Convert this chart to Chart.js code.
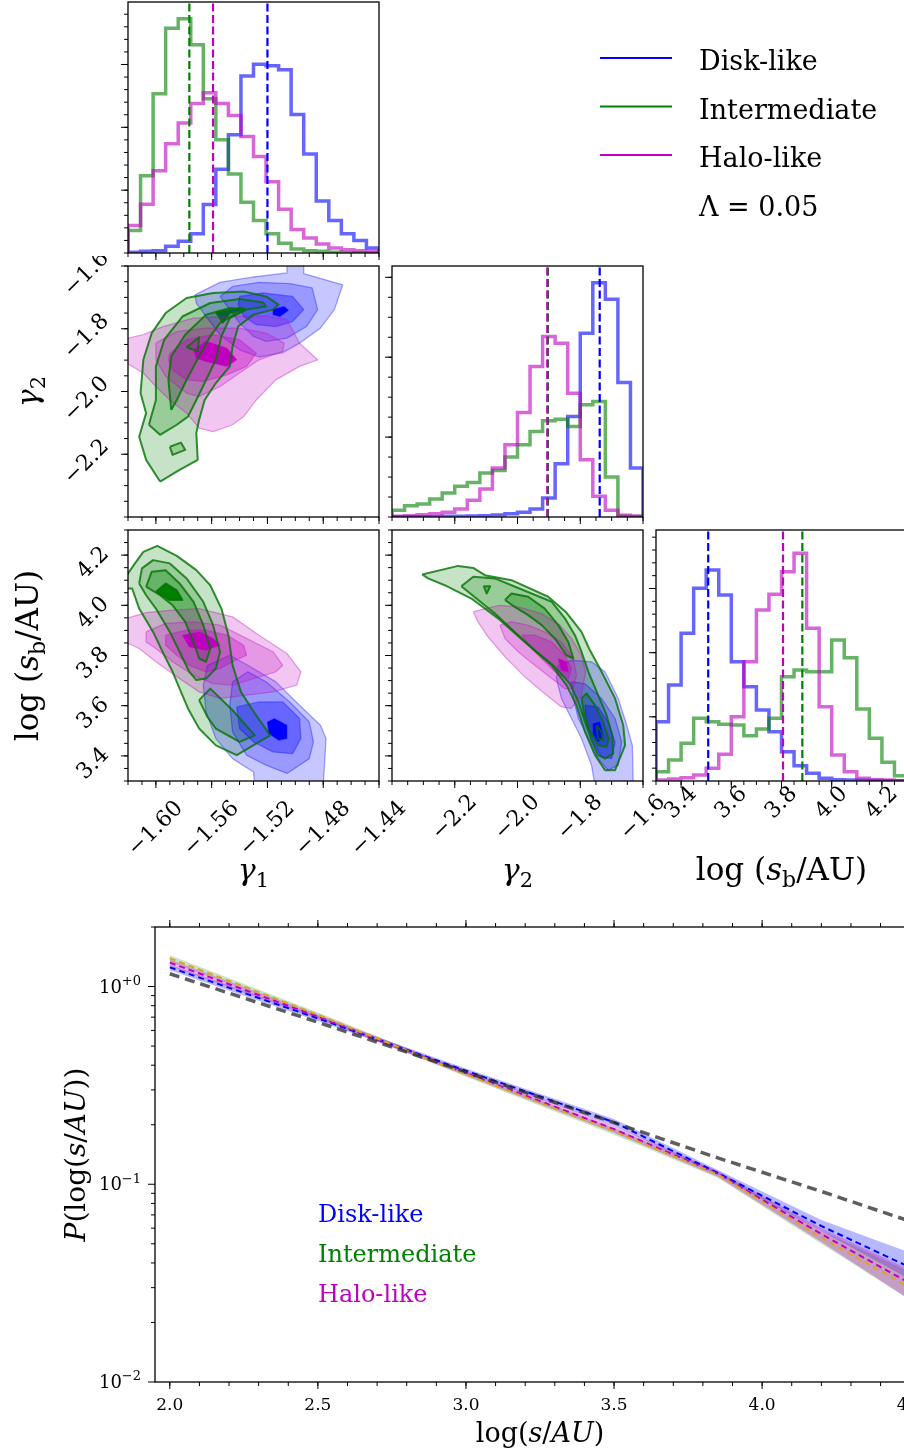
<!DOCTYPE html>
<html>
<head>
<meta charset="utf-8">
<title>Separation distribution fits</title>
<script src="https://cdn.jsdelivr.net/npm/chart.js@4.4.1/dist/chart.umd.min.js"></script>
<style>
  html, body { margin: 0; padding: 0; background: #fff; }
  body { position: relative; width: 904px; height: 1456px; overflow: hidden; }
  canvas { position: absolute; }
</style>
</head>
<body>
<canvas id="histG1"></canvas>
<canvas id="g1g2"></canvas>
<canvas id="histG2"></canvas>
<canvas id="g1Sb"></canvas>
<canvas id="g2Sb"></canvas>
<canvas id="histSb"></canvas>
<canvas id="sepDist"></canvas>
<script>
const SERIF = '"DejaVu Serif", serif';

// series: disk-like, intermediate, halo-like
const seriesNames = ['Disk-like', 'Intermediate', 'Halo-like'];
const seriesRGB = ['0,0,255', '0,128,0', '191,0,191'];
const lambdaText = 'Λ = 0.05';

// corner plot axis limits and ticks
const gamma1Lim = [-1.62, -1.44];
const gamma2Lim = [-2.4, -1.6];
const logSbLim = [3.3, 4.3];
const gamma1Ticks = [-1.60, -1.56, -1.52, -1.48, -1.44];
const gamma1Labels = ['−1.60', '−1.56', '−1.52', '−1.48', '−1.44'];
const gamma2Ticks = [-2.2, -2.0, -1.8, -1.6];
const gamma2Labels = ['−2.2', '−2.0', '−1.8', '−1.6'];
const logSbTicks = [3.4, 3.6, 3.8, 4.0, 4.2];
const logSbLabels = ['3.4', '3.6', '3.8', '4.0', '4.2'];

// 1D marginals (bin edges, counts per series, medians)
const gamma1Edges = [-1.620, -1.611, -1.602, -1.593, -1.584, -1.575, -1.566, -1.557, -1.548, -1.539, -1.530,
  -1.521, -1.512, -1.503, -1.494, -1.485, -1.476, -1.467, -1.458, -1.449, -1.440];
const gamma1Disk = [2, 5, 7, 20, 35, 57, 144, 249, 352, 527, 562, 557, 545, 412, 295, 155, 97, 57, 37, 15];
const gamma1Inter = [67, 230, 474, 669, 697, 620, 459, 337, 235, 151, 97, 57, 29, 12, 7, 5, 2, 1, 1, 0];
const gamma1Halo = [82, 145, 245, 325, 387, 445, 477, 445, 409, 347, 287, 212, 130, 70, 45, 27, 15, 10, 7, 5];
const gamma1Medians = [-1.520, -1.576, -1.559];
const gamma1HistMax = 747;

const gamma2Edges = [-2.40, -2.36, -2.32, -2.28, -2.24, -2.20, -2.16, -2.12, -2.08, -2.04, -2.00,
  -1.96, -1.92, -1.88, -1.84, -1.80, -1.76, -1.72, -1.68, -1.64, -1.60];
const gamma2Disk = [1, 1, 1, 1, 2, 2, 3, 4, 6, 10, 14, 24, 57, 160, 302, 552, 704, 654, 404, 147];
const gamma2Inter = [20, 34, 39, 54, 72, 92, 104, 132, 140, 180, 217, 257, 289, 294, 272, 337, 347, 120, 2, 2];
const gamma2Halo = [2, 4, 7, 10, 14, 24, 50, 84, 147, 217, 314, 452, 542, 522, 372, 172, 62, 20, 5, 2];
const gamma2Medians = [-1.738, -1.903, -1.905];
const gamma2HistMax = 754;

const logSbEdges = [3.30, 3.35, 3.40, 3.45, 3.50, 3.55, 3.60, 3.65, 3.70, 3.75, 3.80,
  3.85, 3.90, 3.95, 4.00, 4.05, 4.10, 4.15, 4.20, 4.25, 4.30];
const logSbDisk = [178, 288, 443, 578, 633, 558, 358, 283, 213, 148, 88, 46, 23, 8, 4, 3, 2, 2, 1, 1];
const logSbInter = [28, 63, 113, 188, 178, 170, 168, 136, 156, 188, 313, 333, 328, 328, 423, 370, 216, 128, 56, 16];
const logSbHalo = [3, 6, 10, 18, 38, 80, 193, 358, 513, 560, 628, 683, 458, 223, 78, 28, 8, 3, 3, 1];
const logSbMedians = [3.508, 3.883, 3.806];
const logSbHistMax = 753;

// 2D credible regions: per series, a list of contour levels (outer -> inner),
// each level a list of closed polygons of [x, y] points
const g1g2Disk = [
  [[[-1.572, -1.692], [-1.554, -1.652], [-1.530, -1.635], [-1.506, -1.622], [-1.506, -1.58], [-1.494, -1.58],
    [-1.494, -1.624], [-1.466, -1.660], [-1.472, -1.739], [-1.482, -1.798], [-1.497, -1.846], [-1.509, -1.876],
    [-1.526, -1.890], [-1.540, -1.867], [-1.554, -1.819], [-1.564, -1.761], [-1.571, -1.718]]],
  [[[-1.554, -1.697], [-1.545, -1.665], [-1.526, -1.652], [-1.504, -1.656], [-1.488, -1.670], [-1.484, -1.739],
    [-1.492, -1.793], [-1.506, -1.830], [-1.521, -1.840], [-1.530, -1.824], [-1.540, -1.782], [-1.547, -1.739]]],
  [[[-1.540, -1.697], [-1.523, -1.686], [-1.502, -1.697], [-1.494, -1.739], [-1.502, -1.777], [-1.514, -1.793],
    [-1.528, -1.787], [-1.537, -1.761], [-1.541, -1.723]]],
  [[[-1.516, -1.739], [-1.508, -1.729], [-1.505, -1.741], [-1.511, -1.761], [-1.516, -1.755]]]
];
const g1g2Halo = [
  [[[-1.625, -1.835], [-1.609, -1.819], [-1.595, -1.793], [-1.573, -1.766], [-1.549, -1.761], [-1.521, -1.759],
    [-1.506, -1.771], [-1.497, -1.846], [-1.484, -1.899], [-1.497, -1.920], [-1.514, -1.963], [-1.528, -2.027],
    [-1.537, -2.080], [-1.545, -2.106], [-1.559, -2.128], [-1.569, -2.117], [-1.578, -2.069], [-1.590, -2.027],
    [-1.600, -1.984], [-1.609, -1.941], [-1.625, -1.899]]],
  [[[-1.600, -1.846], [-1.585, -1.809], [-1.564, -1.798], [-1.540, -1.798], [-1.521, -1.814], [-1.508, -1.846],
    [-1.509, -1.872], [-1.526, -1.899], [-1.540, -1.941], [-1.554, -1.984], [-1.569, -2.016], [-1.578, -2.005],
    [-1.593, -1.952], [-1.600, -1.899]]],
  [[[-1.590, -1.878], [-1.578, -1.835], [-1.559, -1.819], [-1.540, -1.835], [-1.528, -1.878], [-1.535, -1.920],
    [-1.549, -1.947], [-1.566, -1.968], [-1.578, -1.963], [-1.588, -1.931], [-1.591, -1.899]]],
  [[[-1.573, -1.867], [-1.564, -1.840], [-1.549, -1.862], [-1.542, -1.899], [-1.549, -1.920], [-1.564, -1.904],
    [-1.571, -1.894]]]
];
const g1g2Inter = [
  [[[-1.597, -2.287], [-1.607, -2.218], [-1.612, -2.144], [-1.607, -2.069], [-1.611, -2.005], [-1.609, -1.899],
    [-1.603, -1.814], [-1.593, -1.750], [-1.578, -1.702], [-1.559, -1.686], [-1.537, -1.681], [-1.521, -1.697],
    [-1.512, -1.723], [-1.516, -1.739], [-1.530, -1.755], [-1.541, -1.793], [-1.545, -1.856], [-1.547, -1.920],
    [-1.557, -1.973], [-1.565, -2.027], [-1.569, -2.090], [-1.571, -2.133], [-1.570, -2.218], [-1.583, -2.250]]],
  [[[-1.605, -2.106], [-1.600, -2.027], [-1.600, -1.920], [-1.594, -1.835], [-1.581, -1.761], [-1.561, -1.718],
    [-1.540, -1.705], [-1.523, -1.716], [-1.521, -1.729], [-1.535, -1.739], [-1.547, -1.766], [-1.553, -1.824],
    [-1.557, -1.899], [-1.564, -1.963], [-1.571, -2.027], [-1.577, -2.080], [-1.585, -2.106], [-1.597, -2.138]],
   [[-1.590, -2.176], [-1.582, -2.163], [-1.579, -2.186], [-1.588, -2.202]]],
  [[[-1.589, -2.059], [-1.591, -1.963], [-1.589, -1.888], [-1.579, -1.819], [-1.564, -1.755], [-1.547, -1.734],
    [-1.536, -1.739], [-1.545, -1.758], [-1.554, -1.782], [-1.561, -1.824], [-1.569, -1.888], [-1.578, -1.963],
    [-1.585, -2.027]],
   [[-1.578, -1.859], [-1.569, -1.827], [-1.570, -1.872]]],
  [[[-1.557, -1.748], [-1.540, -1.734], [-1.536, -1.739], [-1.547, -1.750], [-1.552, -1.780]]]
];

const g1SbDisk = [
  [[[-1.563, 3.761], [-1.547, 3.801], [-1.534, 3.761], [-1.514, 3.695], [-1.497, 3.602], [-1.482, 3.522],
    [-1.478, 3.469], [-1.480, 3.28], [-1.529, 3.28], [-1.530, 3.336], [-1.545, 3.389], [-1.557, 3.469],
    [-1.564, 3.575], [-1.566, 3.682]]],
  [[[-1.545, 3.695], [-1.534, 3.735], [-1.521, 3.695], [-1.504, 3.615], [-1.490, 3.535], [-1.487, 3.456],
    [-1.490, 3.389], [-1.506, 3.330], [-1.521, 3.363], [-1.535, 3.403], [-1.545, 3.496], [-1.547, 3.602]]],
  [[[-1.542, 3.595], [-1.526, 3.615], [-1.509, 3.615], [-1.497, 3.549], [-1.496, 3.469], [-1.502, 3.409],
    [-1.516, 3.416], [-1.530, 3.456], [-1.540, 3.509]]],
  [[[-1.520, 3.535], [-1.515, 3.549], [-1.506, 3.522], [-1.506, 3.469], [-1.512, 3.462], [-1.519, 3.489]]]
];
const g1SbHalo = [
  [[[-1.625, 3.941], [-1.607, 3.971], [-1.588, 3.981], [-1.569, 3.987], [-1.545, 3.954], [-1.526, 3.881],
    [-1.506, 3.808], [-1.496, 3.735], [-1.499, 3.682], [-1.516, 3.655], [-1.535, 3.642], [-1.554, 3.629],
    [-1.569, 3.655], [-1.583, 3.708], [-1.600, 3.775], [-1.612, 3.828], [-1.625, 3.861]]],
  [[[-1.607, 3.894], [-1.593, 3.928], [-1.573, 3.934], [-1.554, 3.921], [-1.535, 3.868], [-1.516, 3.815],
    [-1.509, 3.761], [-1.514, 3.735], [-1.530, 3.708], [-1.545, 3.682], [-1.559, 3.688], [-1.573, 3.721],
    [-1.588, 3.775], [-1.600, 3.828], [-1.607, 3.854]]],
  [[[-1.593, 3.881], [-1.578, 3.901], [-1.564, 3.901], [-1.549, 3.881], [-1.537, 3.841], [-1.535, 3.801],
    [-1.545, 3.775], [-1.554, 3.748], [-1.564, 3.735], [-1.576, 3.761], [-1.585, 3.801], [-1.593, 3.841]]],
  [[[-1.581, 3.881], [-1.569, 3.894], [-1.559, 3.868], [-1.554, 3.841], [-1.564, 3.821], [-1.576, 3.834]]]
];
const g1SbInter = [
  [[[-1.625, 4.087], [-1.615, 4.167], [-1.609, 4.213], [-1.599, 4.237], [-1.585, 4.197], [-1.571, 4.140],
    [-1.561, 4.080], [-1.553, 3.987], [-1.548, 3.881], [-1.545, 3.761], [-1.539, 3.655], [-1.529, 3.569],
    [-1.518, 3.482], [-1.526, 3.456], [-1.542, 3.403], [-1.557, 3.442], [-1.569, 3.509], [-1.577, 3.589],
    [-1.583, 3.668], [-1.588, 3.735], [-1.594, 3.801], [-1.602, 3.894], [-1.612, 3.987], [-1.617, 4.067],
    [-1.625, 4.067]]],
  [[[-1.612, 4.087], [-1.610, 4.147], [-1.602, 4.180], [-1.590, 4.167], [-1.578, 4.107], [-1.566, 4.014],
    [-1.559, 3.921], [-1.554, 3.815], [-1.557, 3.748], [-1.564, 3.708], [-1.571, 3.702], [-1.576, 3.735],
    [-1.583, 3.815], [-1.590, 3.894], [-1.600, 3.987], [-1.607, 4.040]],
   [[-1.569, 3.622], [-1.561, 3.668], [-1.545, 3.582], [-1.529, 3.482], [-1.540, 3.456], [-1.557, 3.509],
    [-1.563, 3.555]]],
  [[[-1.607, 4.074], [-1.603, 4.134], [-1.593, 4.140], [-1.583, 4.087], [-1.573, 4.014], [-1.566, 3.921],
    [-1.561, 3.828], [-1.564, 3.775], [-1.569, 3.788], [-1.573, 3.854], [-1.579, 3.934], [-1.588, 4.000],
    [-1.597, 4.040]]],
  [[[-1.600, 4.054], [-1.593, 4.087], [-1.585, 4.060], [-1.581, 4.021], [-1.590, 4.021]]]
];

const g2SbDisk = [
  [[[-1.870, 3.761], [-1.828, 3.781], [-1.764, 3.775], [-1.721, 3.735], [-1.679, 3.629], [-1.655, 3.535],
    [-1.634, 3.442], [-1.631, 3.28], [-1.753, 3.28], [-1.764, 3.363], [-1.796, 3.469], [-1.828, 3.549],
    [-1.860, 3.629], [-1.876, 3.708]]],
  [[[-1.828, 3.695], [-1.785, 3.688], [-1.732, 3.629], [-1.689, 3.549], [-1.668, 3.456], [-1.679, 3.363],
    [-1.711, 3.343], [-1.743, 3.389], [-1.774, 3.469], [-1.806, 3.549], [-1.822, 3.629]]],
  [[[-1.785, 3.602], [-1.743, 3.595], [-1.711, 3.535], [-1.689, 3.456], [-1.700, 3.389], [-1.732, 3.396],
    [-1.759, 3.456], [-1.780, 3.522]]],
  [[[-1.759, 3.529], [-1.738, 3.535], [-1.727, 3.482], [-1.743, 3.456], [-1.759, 3.489]]]
];
const g2SbHalo = [
  [[[-2.141, 3.974], [-2.104, 3.987], [-2.056, 4.000], [-1.998, 3.994], [-1.923, 3.967], [-1.865, 3.921],
    [-1.828, 3.868], [-1.796, 3.801], [-1.783, 3.735], [-1.796, 3.642], [-1.828, 3.589], [-1.860, 3.595],
    [-1.913, 3.648], [-1.977, 3.715], [-2.040, 3.795], [-2.094, 3.874], [-2.126, 3.934]]],
  [[[-2.056, 3.921], [-2.019, 3.934], [-1.966, 3.921], [-1.913, 3.894], [-1.860, 3.854], [-1.822, 3.788],
    [-1.812, 3.722], [-1.822, 3.668], [-1.849, 3.668], [-1.891, 3.708], [-1.945, 3.761], [-1.998, 3.815],
    [-2.040, 3.868]]],
  [[[-1.987, 3.881], [-1.945, 3.881], [-1.891, 3.854], [-1.849, 3.801], [-1.828, 3.748], [-1.838, 3.708],
    [-1.870, 3.722], [-1.913, 3.775], [-1.955, 3.828]]],
  [[[-1.870, 3.788], [-1.844, 3.775], [-1.838, 3.735], [-1.860, 3.741]]]
];
const g2SbInter = [
  [[[-2.304, 4.123], [-2.189, 4.157], [-2.141, 4.149], [-2.104, 4.120], [-2.019, 4.100], [-1.902, 4.034],
    [-1.844, 3.971], [-1.796, 3.894], [-1.772, 3.828], [-1.732, 3.735], [-1.689, 3.629], [-1.663, 3.522],
    [-1.657, 3.443], [-1.689, 3.343], [-1.721, 3.343], [-1.753, 3.403], [-1.785, 3.496], [-1.812, 3.602],
    [-1.844, 3.682], [-1.891, 3.761], [-1.977, 3.854], [-2.062, 3.948], [-2.147, 4.027], [-2.232, 4.080],
    [-2.285, 4.107]]],
  [[[-2.179, 4.076], [-2.141, 4.114], [-2.072, 4.107], [-2.019, 4.080], [-1.955, 4.047], [-1.891, 4.014],
    [-1.849, 3.948], [-1.817, 3.881], [-1.796, 3.815], [-1.774, 3.735], [-1.743, 3.642], [-1.716, 3.562],
    [-1.698, 3.482], [-1.695, 3.409], [-1.721, 3.389], [-1.743, 3.403], [-1.764, 3.462], [-1.785, 3.535],
    [-1.806, 3.615], [-1.833, 3.688], [-1.881, 3.755], [-1.945, 3.821], [-2.009, 3.894], [-2.072, 3.967],
    [-2.131, 4.027]]],
  [[[-2.040, 4.021], [-2.019, 4.047], [-1.966, 4.034], [-1.913, 3.987], [-1.870, 3.921], [-1.838, 3.854],
    [-1.822, 3.788], [-1.844, 3.801], [-1.881, 3.868], [-1.923, 3.921], [-1.966, 3.961], [-2.009, 3.994]],
   [[-1.796, 3.629], [-1.780, 3.649], [-1.753, 3.602], [-1.727, 3.535], [-1.709, 3.469], [-1.716, 3.436],
    [-1.743, 3.442], [-1.769, 3.496], [-1.787, 3.562]],
   [[-2.108, 4.076], [-2.087, 4.076], [-2.098, 4.047]]],
  [[[-1.748, 3.522], [-1.732, 3.496], [-1.727, 3.462], [-1.743, 3.469]]]
];

// separation distribution: model curves vs log(s/AU)
const sepGrid = [2.0, 2.5, 3.0, 3.5, 3.85, 4.2, 4.5];
const refModel = [1.16, 0.66, 0.37, 0.205, 0.136, 0.092, 0.065];
const diskMedian = [1.25, 0.69, 0.375, 0.206, 0.114, 0.0615, 0.038];
const diskLo = [1.21, 0.67, 0.365, 0.198, 0.111, 0.058, 0.033];
const diskHi = [1.29, 0.71, 0.385, 0.214, 0.118, 0.066, 0.045];
const interMedian = [1.39, 0.72, 0.36, 0.185, 0.112, 0.0537, 0.030];
const interLo = [1.33, 0.70, 0.35, 0.178, 0.108, 0.050, 0.026];
const interHi = [1.44, 0.74, 0.37, 0.192, 0.116, 0.058, 0.036];
const haloMedian = [1.32, 0.705, 0.365, 0.19, 0.113, 0.056, 0.0315];
const haloLo = [1.27, 0.685, 0.355, 0.182, 0.109, 0.051, 0.026];
const haloHi = [1.37, 0.725, 0.375, 0.198, 0.117, 0.060, 0.037];
const sepTicks = [2.0, 2.5, 3.0, 3.5, 4.0, 4.5];
const sepTickLabels = ['2.0', '2.5', '3.0', '3.5', '4.0', '4.5'];
const probTicks = [0.01, 0.1, 1];
const probTickLabels = [['10', '−2'], ['10', '−1'], ['10', '+0']];

// ---------- helpers ----------
function range(lo, hi, step) {
  const out = [];
  for (let v = lo; v <= hi + step * 1e-6; v += step) out.push(+v.toFixed(6));
  return out;
}

function partFont(style, size) {
  const s = (style === 'sub' || style === 'sup') ? Math.round(size * 0.7) : size;
  return (style === 'it' ? 'italic ' : '') + s + 'px ' + SERIF;
}

function drawRich(ctx, parts, x, y, size, align) {
  const widths = parts.map(([t, st]) => { ctx.font = partFont(st, size); return ctx.measureText(t).width; });
  const total = widths.reduce((s, w) => s + w, 0);
  let cx = align === 'center' ? x - total / 2 : align === 'right' ? x - total : x;
  ctx.textAlign = 'left';
  ctx.textBaseline = 'alphabetic';
  parts.forEach(([t, st], i) => {
    ctx.font = partFont(st, size);
    const dy = st === 'sub' ? size * 0.22 : st === 'sup' ? -size * 0.42 : 0;
    ctx.fillText(t, cx, y + dy);
    cx += widths[i];
  });
}

const levelAlpha = [0.22, 0.23, 0.33, 1];

// part: 'fill' for the shaded regions only, 'line' for the outlines only, otherwise both
function contourSets(levels, rgb, lineColor, lineWidth, part) {
  const out = [];
  levels.forEach((polys, lv) => polys.forEach(poly => {
    const pts = poly.map(([x, y]) => ({ x, y }));
    pts.push({ x: poly[0][0], y: poly[0][1] });
    out.push({
      data: pts,
      polyFill: part === 'line' ? null : `rgba(${rgb},${levelAlpha[lv]})`,
      borderColor: part === 'fill' ? 'transparent' : lineColor,
      borderWidth: part === 'fill' ? 0 : lineWidth,
      borderJoinStyle: 'round',
      pointRadius: 0,
      fill: false
    });
  }));
  return out;
}

function histSet(edges, counts, rgb) {
  const pts = [{ x: edges[0], y: 0 }];
  counts.forEach((c, i) => pts.push({ x: edges[i], y: c }));
  pts.push({ x: edges[edges.length - 1], y: 0 });
  return { data: pts, stepped: 'before', borderColor: `rgba(${rgb},0.6)`, borderWidth: 3.5,
    borderJoinStyle: 'miter', pointRadius: 0, fill: false };
}

function medianSet(m, ymax, rgb) {
  return { data: [{ x: m, y: 0 }, { x: m, y: ymax }], borderColor: `rgb(${rgb})`, borderWidth: 2.2,
    borderDash: [8, 3.5], pointRadius: 0, fill: false };
}

function lineData(xs, ys) {
  return xs.map((x, i) => ({ x, y: ys[i] }));
}

// fills each contour polygon from the points Chart.js placed on the scales
const polyFill = {
  id: 'polyFill',
  beforeDatasetDraw(chart, args) {
    const ds = chart.data.datasets[args.index];
    if (!ds.polyFill) return;
    const pts = args.meta.data;
    if (!pts.length) return;
    const a = chart.chartArea, ctx = chart.ctx;
    ctx.save();
    ctx.beginPath();
    ctx.rect(a.left, a.top, a.right - a.left, a.bottom - a.top);
    ctx.clip();
    ctx.beginPath();
    pts.forEach((p, i) => (i ? ctx.lineTo(p.x, p.y) : ctx.moveTo(p.x, p.y)));
    ctx.closePath();
    ctx.fillStyle = ds.polyFill;
    ctx.fill();
    ctx.restore();
  }
};

const axisSpecs = {};

function cornerLabels(ctx, chart, spec) {
  const a = chart.chartArea;
  ctx.font = `22px ${SERIF}`;
  ctx.textAlign = 'center';
  ctx.textBaseline = 'middle';
  ctx.fillStyle = '#000';
  if (spec.x.labels) spec.x.major.forEach((v, i) => {
    const t = spec.x.labels[i];
    const w = ctx.measureText(t).width;
    ctx.save();
    ctx.translate(chart.scales.x.getPixelForValue(v), a.bottom + 0.8 * w - 6);
    ctx.rotate(-Math.PI / 4);
    ctx.fillText(t, 0, 0);
    ctx.restore();
  });
  if (spec.y.labels) spec.y.major.forEach((v, i) => {
    const t = spec.y.labels[i];
    const w = ctx.measureText(t).width;
    ctx.save();
    ctx.translate(a.left - 17 - (w + 15) / (2 * Math.SQRT2), chart.scales.y.getPixelForValue(v) + 8);
    ctx.rotate(-Math.PI / 4);
    ctx.fillText(t, 0, 0);
    ctx.restore();
  });
}

function plainLabels(ctx, chart, spec) {
  const a = chart.chartArea;
  ctx.fillStyle = '#000';
  ctx.font = `17px ${SERIF}`;
  ctx.textAlign = 'center';
  ctx.textBaseline = 'alphabetic';
  spec.x.major.forEach((v, i) => ctx.fillText(spec.x.labels[i], chart.scales.x.getPixelForValue(v), a.bottom + 28));
  spec.y.major.forEach((v, i) => {
    const [base, exp] = spec.y.labels[i];
    drawRich(ctx, [[base, ''], [exp, 'sup']], a.left - 14, chart.scales.y.getPixelForValue(v) + 6, 18, 'right');
  });
}

// frame, outward major/minor ticks, tick labels and axis titles
const mplAxes = {
  id: 'mplAxes',
  afterDraw(chart) {
    const spec = axisSpecs[chart.canvas.id];
    if (!spec) return;
    const ctx = chart.ctx;
    const a = chart.chartArea;
    const xs = chart.scales.x, ys = chart.scales.y;
    ctx.save();
    ctx.strokeStyle = '#000';
    ctx.fillStyle = '#000';
    ctx.lineWidth = 1;
    ctx.beginPath();
    const xTick = (v, len) => {
      const p = xs.getPixelForValue(v);
      if (p < a.left - 0.6 || p > a.right + 0.6) return;
      ctx.moveTo(p, a.bottom); ctx.lineTo(p, a.bottom + len);
      if (spec.topTicks) { ctx.moveTo(p, a.top); ctx.lineTo(p, a.top - len); }
    };
    const yTick = (v, len) => {
      const p = ys.getPixelForValue(v);
      if (p < a.top - 0.6 || p > a.bottom + 0.6) return;
      ctx.moveTo(a.left, p); ctx.lineTo(a.left - len, p);
    };
    spec.x.minor.forEach(v => xTick(v, 4));
    spec.x.major.forEach(v => xTick(v, 7));
    spec.y.minor.forEach(v => yTick(v, 4));
    spec.y.major.forEach(v => yTick(v, 7));
    ctx.stroke();
    ctx.lineWidth = 1.3;
    ctx.strokeRect(a.left, a.top, a.right - a.left, a.bottom - a.top);

    if (spec.style === 'corner') cornerLabels(ctx, chart, spec);
    else plainLabels(ctx, chart, spec);

    ctx.fillStyle = '#000';
    if (spec.xTitle) {
      drawRich(ctx, spec.xTitle.parts, (a.left + a.right) / 2, a.bottom + spec.xTitle.offset, spec.xTitle.size, 'center');
    }
    if (spec.yTitle) {
      ctx.save();
      ctx.translate(spec.yTitle.x, (a.top + a.bottom) / 2);
      ctx.rotate(-Math.PI / 2);
      drawRich(ctx, spec.yTitle.parts, 0, 0, spec.yTitle.size, 'center');
      ctx.restore();
    }
    if (spec.extra) spec.extra(ctx, chart);
    ctx.restore();
  }
};

function makePanel(id, box, datasets, xLim, yLim, yType) {
  const canvas = document.getElementById(id);
  canvas.width = box.w;
  canvas.height = box.h;
  canvas.style.left = box.x + 'px';
  canvas.style.top = box.y + 'px';
  // first dataset in the list is drawn first (bottom-most)
  datasets.forEach((d, i) => { d.order = datasets.length - i; });
  return new Chart(canvas, {
    type: 'line',
    data: { datasets },
    options: {
      responsive: false,
      animation: false,
      devicePixelRatio: 1,
      events: [],
      layout: { padding: box.pad, autoPadding: false },
      elements: { point: { radius: 0 }, line: { tension: 0 } },
      scales: {
        x: { type: 'linear', display: false, min: xLim[0], max: xLim[1] },
        y: { type: yType || 'linear', display: false, min: yLim[0], max: yLim[1] }
      },
      plugins: { legend: { display: false }, tooltip: { enabled: false } }
    },
    plugins: [polyFill, mplAxes]
  });
}

// ---------- axis descriptions ----------
const gamma1Axis = { major: gamma1Ticks, minor: range(-1.62, -1.44, 0.01) };
const gamma2Axis = { major: gamma2Ticks, minor: range(-2.4, -1.6, 0.05) };
const logSbAxis = { major: logSbTicks, minor: range(3.3, 4.3, 0.05) };
const histYAxis = (max, step, div) => ({ major: range(step, max, step), minor: range(0, max, step / div) });

const gamma1Title = [['γ', 'it'], ['1', 'sub']];
const gamma2Title = [['γ', 'it'], ['2', 'sub']];
const logSbTitle = [['log (', ''], ['s', 'it'], ['b', 'sub'], ['/AU)', '']];

const lineFaint = rgb => `rgba(${rgb},0.35)`;
const greenLine = 'rgba(0,115,0,0.8)';

// intermediate shading sits underneath, its outlines on top of everything
function cornerContours(disk, halo, inter) {
  return [
    ...contourSets(inter, seriesRGB[1], null, 0, 'fill'),
    ...contourSets(disk, seriesRGB[0], lineFaint(seriesRGB[0]), 1.3),
    ...contourSets(halo, seriesRGB[2], lineFaint(seriesRGB[2]), 1.3),
    ...contourSets(inter, seriesRGB[1], greenLine, 2, 'line')
  ];
}

function cornerLegend(ctx) {
  ctx.lineWidth = 2;
  ctx.font = `27px ${SERIF}`;
  ctx.textAlign = 'left';
  ctx.textBaseline = 'alphabetic';
  seriesNames.forEach((name, i) => {
    const y = 58 + 48.5 * i;
    ctx.strokeStyle = `rgb(${seriesRGB[i]})`;
    ctx.beginPath(); ctx.moveTo(600, y); ctx.lineTo(672, y); ctx.stroke();
    ctx.fillStyle = '#000';
    ctx.fillText(name, 699, y + 12);
  });
  ctx.fillText(lambdaText, 699, 58 + 48.5 * 3 + 12);
}

function sepLegend(ctx, chart) {
  const a = chart.chartArea;
  ctx.font = `24px ${SERIF}`;
  ctx.textAlign = 'left';
  ctx.textBaseline = 'alphabetic';
  seriesNames.forEach((name, i) => {
    ctx.fillStyle = `rgb(${seriesRGB[i]})`;
    ctx.fillText(name, a.left + 163, a.top + 295 + 40 * i);
  });
}

// ---------- row 1: gamma1 marginal ----------
axisSpecs.histG1 = { style: 'corner', x: gamma1Axis, y: histYAxis(gamma1HistMax, 187, 5), extra: cornerLegend };
makePanel('histG1', { x: 0, y: 0, w: 904, h: 263, pad: { left: 128, top: 2, right: 525, bottom: 10 } }, [
  histSet(gamma1Edges, gamma1Disk, seriesRGB[0]),
  histSet(gamma1Edges, gamma1Inter, seriesRGB[1]),
  histSet(gamma1Edges, gamma1Halo, seriesRGB[2]),
  ...gamma1Medians.map((m, i) => medianSet(m, gamma1HistMax, seriesRGB[i]))
], gamma1Lim, [0, gamma1HistMax]);

// ---------- row 2 ----------
axisSpecs.g1g2 = { style: 'corner', x: gamma1Axis, y: { ...gamma2Axis, labels: gamma2Labels },
  yTitle: { parts: gamma2Title, size: 30, x: 38 } };
makePanel('g1g2', { x: 0, y: 256, w: 389, h: 271, pad: { left: 128, top: 10, right: 10, bottom: 10 } },
  cornerContours(g1g2Disk, g1g2Halo, g1g2Inter), gamma1Lim, gamma2Lim);

axisSpecs.histG2 = { style: 'corner', x: gamma2Axis, y: histYAxis(gamma2HistMax, 240, 4) };
makePanel('histG2', { x: 382, y: 256, w: 271, h: 271, pad: { left: 10, top: 10, right: 10, bottom: 10 } }, [
  histSet(gamma2Edges, gamma2Disk, seriesRGB[0]),
  histSet(gamma2Edges, gamma2Inter, seriesRGB[1]),
  histSet(gamma2Edges, gamma2Halo, seriesRGB[2]),
  ...gamma2Medians.map((m, i) => medianSet(m, gamma2HistMax, seriesRGB[i]))
], gamma2Lim, [0, gamma2HistMax]);

// ---------- row 3 ----------
axisSpecs.g1Sb = { style: 'corner', x: { ...gamma1Axis, labels: gamma1Labels }, y: { ...logSbAxis, labels: logSbLabels },
  xTitle: { parts: gamma1Title, size: 30, offset: 99 }, yTitle: { parts: logSbTitle, size: 31, x: 38 } };
makePanel('g1Sb', { x: 0, y: 520, w: 419, h: 381, pad: { left: 128, top: 10, right: 40, bottom: 120 } },
  cornerContours(g1SbDisk, g1SbHalo, g1SbInter), gamma1Lim, logSbLim);

axisSpecs.g2Sb = { style: 'corner', x: { ...gamma2Axis, labels: gamma2Labels }, y: logSbAxis,
  xTitle: { parts: gamma2Title, size: 30, offset: 99 } };
makePanel('g2Sb', { x: 382, y: 520, w: 301, h: 381, pad: { left: 10, top: 10, right: 40, bottom: 120 } },
  cornerContours(g2SbDisk, g2SbHalo, g2SbInter), gamma2Lim, logSbLim);

axisSpecs.histSb = { style: 'corner', x: { ...logSbAxis, labels: logSbLabels }, y: histYAxis(logSbHistMax, 192.5, 5),
  xTitle: { parts: logSbTitle, size: 31, offset: 99 } };
makePanel('histSb', { x: 646, y: 520, w: 301, h: 381, pad: { left: 10, top: 10, right: 40, bottom: 120 } }, [
  histSet(logSbEdges, logSbDisk, seriesRGB[0]),
  histSet(logSbEdges, logSbInter, seriesRGB[1]),
  histSet(logSbEdges, logSbHalo, seriesRGB[2]),
  ...logSbMedians.map((m, i) => medianSet(m, logSbHistMax, seriesRGB[i]))
], logSbLim, [0, logSbHistMax]);

// ---------- separation distribution ----------
const probMinor = [0.02, 0.03, 0.04, 0.05, 0.06, 0.07, 0.08, 0.09, 0.2, 0.3, 0.4, 0.5, 0.6, 0.7, 0.8, 0.9, 2];
axisSpecs.sepDist = {
  style: 'plain', topTicks: true,
  x: { major: sepTicks, minor: range(2.0, 4.5, 0.1), labels: sepTickLabels },
  y: { major: probTicks, minor: probMinor, labels: probTickLabels },
  xTitle: { parts: [['log(', ''], ['s', 'it'], ['/', ''], ['AU', 'it'], [')', '']], size: 27, offset: 60 },
  yTitle: { parts: [['P', 'it'], ['(log(', ''], ['s', 'it'], ['/', ''], ['AU', 'it'], ['))', '']], size: 28, x: 85 },
  extra: sepLegend
};
const band = (ys, color, fill) => ({ data: lineData(sepGrid, ys), borderWidth: 0, borderColor: 'transparent',
  backgroundColor: color, fill: fill ? '+1' : false, pointRadius: 0 });
const dashed = (ys, color, width, dash) => ({ data: lineData(sepGrid, ys), borderColor: color, borderWidth: width,
  borderDash: dash, fill: false, pointRadius: 0 });
makePanel('sepDist', { x: 0, y: 900, w: 1000, h: 556, pad: { left: 155, top: 27, right: 75, bottom: 74 } }, [
  band(diskHi, 'rgba(0,0,255,0.28)', true),
  band(diskLo, 'transparent', false),
  band(interHi, 'rgba(0,128,0,0.22)', true),
  band(interLo, 'transparent', false),
  band(haloHi, 'rgba(191,0,191,0.3)', true),
  band(haloLo, 'transparent', false),
  dashed(diskMedian, 'rgb(0,0,255)', 2, [6, 4]),
  dashed(haloMedian, 'rgb(191,0,191)', 2, [6, 4]),
  dashed(interMedian, 'rgb(218,165,32)', 2, [6, 4]),
  dashed(refModel, 'rgba(40,40,40,0.75)', 3.5, [10, 6])
], [1.95, 4.55], [0.01, 2], 'logarithmic');
</script>
</body>
</html>
